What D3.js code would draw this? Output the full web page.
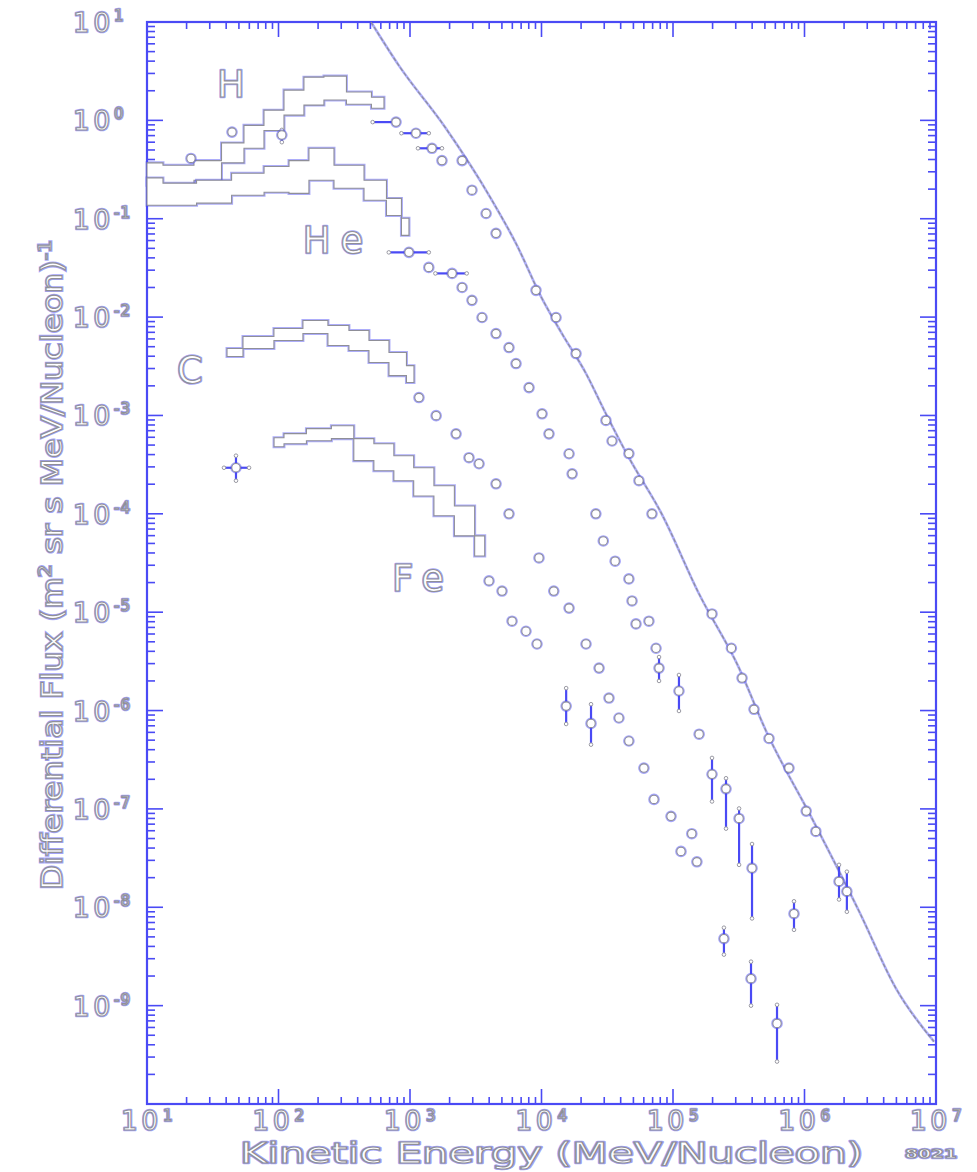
<!DOCTYPE html>
<html><head><meta charset="utf-8">
<script src="https://cdn.jsdelivr.net/npm/d3@7"></script>
<style>
html,body{margin:0;padding:0;background:#fff;}
svg{display:block;}
</style></head><body>
<svg id="chart" width="977" height="1172"></svg>
<script>
// ---------------- data ----------------
const xTickExps = [1, 2, 3, 4, 5, 6, 7];
const yTickExps = [1, 0, -1, -2, -3, -4, -5, -6, -7, -8, -9];
const xTitle = "Kinetic Energy (MeV/Nucleon)";
const yTitleParts = ["Differential Flux (m", "2", " sr s MeV/Nucleon)", "-1"];
const figCode = "8021";

// all-particle power-law line
const lineE = [505, 824, 1850, 4200, 6400, 1.0e4, 1.43e4, 2.18e4, 3.09e4, 4.62e4, 8.2e4, 1.58e5, 3.18e5, 5.1e5, 1.14e6, 2.6e6, 4.97e6, 9.66e6];
const lineF = [10, 3.6, 0.85, 0.154, 0.056, 0.0158, 0.0068, 0.00267, 0.00104, 3.72e-4, 1.0e-4, 1.53e-5, 2.7e-6, 6.2e-7, 8.0e-8, 9.1e-9, 1.49e-9, 4.3e-10];

// H
const hBandE  = [10, 17.5, 29.6, 45.9, 65, 92.5, 131, 186, 264, 409, 634];
const hBandHi = [0.37, 0.35, 0.39, 0.59, 0.89, 1.27, 2.03, 2.75, 2.82, 1.94, 1.72];
const hBandLo = [0.219, 0.195, 0.246, 0.37, 0.52, 0.79, 1.13, 1.43, 1.61, 1.46, 1.33];
const hE  = [21.6, 44.3, 106, 783, 1110, 1470, 1750, 2490, 2960, 3790, 4510, 9080, 1.29e4, 1.83e4, 3.09e4, 3.44e4, 4.62e4, 5.51e4, 6.92e4, 1.98e5, 2.78e5, 3.35e5, 4.13e5, 5.37e5, 7.62e5, 1.03e6, 1.22e6, 1.83e6, 2.1e6];
const hF  = [0.41, 0.76, 0.71, 0.96, 0.74, 0.52, 0.39, 0.39, 0.195, 0.113, 0.071, 0.0187, 0.0099, 0.00426, 8.9e-4, 5.5e-4, 4.1e-4, 2.17e-4, 1.0e-4, 9.6e-6, 4.3e-6, 2.14e-6, 1.03e-6, 5.2e-7, 2.6e-7, 9.5e-8, 5.9e-8, 1.83e-8, 1.45e-8];
const hFLo = [null, null, 0.6, null, null, null, null, null, null, null, null, null, null, null, null, null, null, null, null, null, null, null, null, null, null, null, null, 1.2e-8, 9e-9];
const hFHi = [null, null, 0.8, null, null, null, null, null, null, null, null, null, null, null, null, null, null, null, null, null, null, null, null, null, null, null, null, 2.7e-8, 2.3e-8];
const hELo = [null, null, null, 520, 860, 1150, null, null, null, null, null, null, null, null, null, null, null, null, null, null, null, null, null, null, null, null, null, null, null];
const hEHi = [null, null, null, null, 1390, 1750, null, null, null, null, null, null, null, null, null, null, null, null, null, null, null, null, null, null, null, null, null, null, null];

// He
const heBandE  = [10, 17.5, 32.4, 59.7, 101, 143, 203, 344, 581, 755, 982];
const heBandHi = [0.26, 0.23, 0.246, 0.29, 0.34, 0.39, 0.52, 0.35, 0.246, 0.161, 0.101];
const heBandLo = [0.137, 0.137, 0.144, 0.173, 0.186, 0.181, 0.246, 0.204, 0.154, 0.108, 0.0678];
const heE  = [982, 1390, 2090, 2490, 2960, 3530, 4510, 5660, 6400, 8040, 1.01e4, 1.14e4, 1.62e4, 1.71e4, 2.59e4, 2.95e4, 3.63e4, 4.62e4, 4.88e4, 5.23e4, 6.56e4, 7.43e4, 7.83e4, 1.11e5, 1.58e5, 1.98e5, 2.53e5, 3.18e5, 3.99e5, 8.32e5];
const heF  = [0.0455, 0.032, 0.0278, 0.02, 0.0148, 0.0099, 0.0068, 0.0049, 0.00337, 0.00192, 0.00104, 6.5e-4, 4.08e-4, 2.55e-4, 1.0e-4, 5.3e-5, 3.3e-5, 2.18e-5, 1.3e-5, 7.6e-6, 8.1e-6, 4.3e-6, 2.7e-6, 1.58e-6, 5.75e-7, 2.25e-7, 1.6e-7, 8.0e-8, 2.5e-8, 8.6e-9];
const heFLo = [null, null, null, null, null, null, null, null, null, null, null, null, null, null, null, null, null, null, null, null, null, null, 2.0e-6, 9.9e-7, null, 1.19e-7, 6.3e-8, 2.7e-8, 7.7e-9, 5.9e-9];
const heFHi = [null, null, null, null, null, null, null, null, null, null, null, null, null, null, null, null, null, null, null, null, null, null, 3.5e-6, 2.3e-6, null, 3.3e-7, 2.05e-7, 1.01e-7, 4.4e-8, 1.15e-8];
const heELo = [690, null, 1560, null, null, null, null, null, null, null, null, null, null, null, null, null, null, null, null, null, null, null, null, null, null, null, null, null, null, null];
const heEHi = [1390, null, 2700, null, null, null, null, null, null, null, null, null, null, null, null, null, null, null, null, null, null, null, null, null, null, null, null, null, null, null];

// C
const cBandE  = [40.6, 71, 120, 196, 288, 409, 581, 824, 1072];
const cBandHi = [0.00479, 0.00634, 0.00766, 0.00923, 0.0082, 0.00731, 0.00578, 0.00436, 0.00321];
const cBandLo = [0.00397, 0.00479, 0.00578, 0.0068, 0.00514, 0.00457, 0.00345, 0.00254, 0.00216];
const cE  = [1170, 1580, 2240, 2810, 3350, 4510, 5660, 9570, 1.24e4, 1.62e4, 2.18e4, 2.74e4, 3.26e4, 3.88e4, 4.62e4, 6.01e4, 7.17e4, 9.66e4, 1.39e5, 1.52e5];
const cF  = [0.00152, 9.95e-4, 6.5e-4, 3.72e-4, 3.23e-4, 2.02e-4, 1.0e-4, 3.56e-5, 1.64e-5, 1.1e-5, 4.75e-6, 2.7e-6, 1.34e-6, 8.4e-7, 4.9e-7, 2.6e-7, 1.25e-7, 8.4e-8, 5.6e-8, 2.9e-8];

// Fe
const feBandE  = [92.5, 131, 203, 314, 445, 634, 896, 1270, 1820, 2600, 3700];
const feBandHi = [5.94e-4, 6.53e-4, 7.34e-4, 7.87e-4, 5.81e-4, 5.16e-4, 3.9e-4, 2.94e-4, 1.93e-4, 1.2e-4, 5.97e-5];
const feBandLo = [4.81e-4, 5.16e-4, 5.54e-4, 5.81e-4, 3.47e-4, 2.74e-4, 2.17e-4, 1.52e-4, 9.55e-5, 5.97e-5, 3.73e-5];
const feE  = [47.5, 3990, 5010, 5970, 7620, 9240, 1.54e4, 2.38e4, 1.15e5, 2.44e5, 3.92e5, 6.18e5];
const feF  = [2.94e-4, 2.08e-5, 1.64e-5, 8.1e-6, 6.4e-6, 4.75e-6, 1.11e-6, 7.4e-7, 3.7e-8, 4.8e-9, 1.88e-9, 6.6e-10];
const feFLo = [2.17e-4, null, null, null, null, null, 7.3e-7, 4.5e-7, null, 3.3e-9, 1.0e-9, 2.7e-10];
const feFHi = [3.9e-4, null, null, null, null, null, 1.69e-6, 1.16e-6, null, 6.2e-9, 2.8e-9, 1.02e-9];
const feELo = [38.5, null, null, null, null, null, null, null, null, null, null, null];
const feEHi = [59.7, null, null, null, null, null, null, null, null, null, null, null];

const elementNames = ["H", "He", "C", "Fe"];
const elementLabelE = [34, 153, 16.9, 730];
const elementLabelF = [1.73, 0.0446, 0.00212, 1.66e-5];

// ---------------- drawing ----------------
const BLUE = "#4a4af5", GRAY = "#8f8f98", FONT = "'DejaVu Sans', Verdana, sans-serif";
const svg = d3.select("#chart");
const x = d3.scaleLog().domain([1e1, 1e7]).range([147, 936]);
const y = d3.scaleLog().domain([1e-10, 1e1]).range([1104, 22]);
const [x0, x1] = x.range(), [y1, y0] = y.range();

// outlined text: blue halo + grey outline with white fill
function otext(g, str, px, py, size, opt = {}) {
  const layers = [
    {stroke: BLUE, sw: 2.6, op: 0.5, fill: "none"},
    {stroke: GRAY, sw: 1.1, op: 1, fill: "#fff"}
  ];
  layers.forEach(L => {
    const t = g.append("text").attr("x", px).attr("y", py)
      .attr("font-family", FONT).attr("font-size", size)
      .attr("fill", L.fill).attr("stroke", L.stroke).attr("stroke-width", L.sw)
      .attr("stroke-opacity", L.op).attr("stroke-linejoin", "round")
      .attr("letter-spacing", opt.ls || 0).text(str);
    if (opt.len) t.attr("textLength", opt.len).attr("lengthAdjust", "spacingAndGlyphs");
    if (opt.anchor) t.attr("text-anchor", opt.anchor);
    if (opt.weight) t.attr("font-weight", opt.weight);
  });
}

const gAxes = svg.append("g");
// ticks (inside, all four sides)
const xMinor = [], yMinor = [];
for (let d = 1; d < 7; d++) for (let k = 1; k < 10; k++) xMinor.push({v: k * Math.pow(10, d), major: k === 1});
xMinor.push({v: 1e7, major: true});
for (let d = -10; d < 1; d++) for (let k = 1; k < 10; k++) yMinor.push({v: k * Math.pow(10, d), major: k === 1});
yMinor.push({v: 10, major: true});

const tickSel = gAxes.append("g").attr("stroke", BLUE).attr("stroke-width", 1.6);
xMinor.forEach(t => {
  const L = t.major ? 15 : 7, px = x(t.v);
  tickSel.append("line").attr("x1", px).attr("x2", px).attr("y1", y1).attr("y2", y1 - L);
  tickSel.append("line").attr("x1", px).attr("x2", px).attr("y1", y0).attr("y2", y0 + L);
});
yMinor.forEach(t => {
  const L = t.major ? 16 : 8, py = y(t.v);
  tickSel.append("line").attr("y1", py).attr("y2", py).attr("x1", x0).attr("x2", x0 + L);
  tickSel.append("line").attr("y1", py).attr("y2", py).attr("x1", x1).attr("x2", x1 - L);
});
// frame
gAxes.append("rect").attr("x", x0).attr("y", y0).attr("width", x1 - x0).attr("height", y1 - y0)
  .attr("fill", "none").attr("stroke", BLUE).attr("stroke-width", 2.2);

// tick labels
const gLab = svg.append("g");
yTickExps.forEach(e => {
  const py = y(Math.pow(10, e));
  otext(gLab, "10", 73, py + 10, 26, {ls: 4});
  otext(gLab, String(e), 114, py - 1, 15, {ls: 1});
});
xTickExps.forEach(e => {
  const px = x(Math.pow(10, e));
  otext(gLab, "10", px - 26, 1130, 26, {ls: 4});
  otext(gLab, String(e), px + 16, 1121, 15);
});

// axis titles
otext(gLab, xTitle, 240, 1163, 28, {len: 623});
otext(gLab, figCode, 905, 1158, 13, {len: 52, weight: "bold"});
const yT = svg.append("g").attr("transform", "translate(62,890) rotate(-90)");
[{stroke: BLUE, sw: 2.6, op: 0.5, fill: "none"}, {stroke: GRAY, sw: 1.1, op: 1, fill: "#fff"}].forEach(L => {
  const t = yT.append("text").attr("x", 0).attr("y", 0).attr("font-family", FONT).attr("font-size", 29)
    .attr("fill", L.fill).attr("stroke", L.stroke).attr("stroke-width", L.sw).attr("stroke-opacity", L.op)
    .attr("textLength", 650).attr("lengthAdjust", "spacingAndGlyphs");
  t.append("tspan").text(yTitleParts[0]);
  t.append("tspan").attr("dy", -11).attr("font-size", 18).text(yTitleParts[1]);
  t.append("tspan").attr("dy", 11).text(yTitleParts[2]);
  t.append("tspan").attr("dy", -11).attr("font-size", 18).text(yTitleParts[3]);
});

// plot area
const gPlot = svg.append("g");

// all-particle line
const lineData = lineE.map((e, i) => [e, lineF[i]]);
const lineGen = d3.line().x(d => x(d[0])).y(d => y(d[1])).curve(d3.curveMonotoneX);
gPlot.append("path").attr("d", lineGen(lineData)).attr("fill", "none")
  .attr("stroke", BLUE).attr("stroke-width", 2.6).attr("stroke-opacity", 0.45);
gPlot.append("path").attr("d", lineGen(lineData)).attr("fill", "none")
  .attr("stroke", GRAY).attr("stroke-width", 1.2).attr("stroke-dasharray", "4,2");

// bands
const areaGen = d3.area().x(d => x(d.e)).y0(d => y(d.lo)).y1(d => y(d.hi)).curve(d3.curveStep);
function band(E, Hi, Lo) {
  const data = E.map((e, i) => ({e, hi: Hi[i], lo: Lo[i]}));
  gPlot.append("path").attr("d", areaGen(data)).attr("fill", "none")
    .attr("stroke", BLUE).attr("stroke-width", 3).attr("stroke-opacity", 0.45);
  gPlot.append("path").attr("d", areaGen(data)).attr("fill", "#fff")
    .attr("stroke", GRAY).attr("stroke-width", 1.1);
}
band(hBandE, hBandHi, hBandLo);
band(heBandE, heBandHi, heBandLo);
band(cBandE, cBandHi, cBandLo);
band(feBandE, feBandHi, feBandLo);

// points with error bars
function points(E, F, FLo, FHi, ELo, EHi) {
  const g = gPlot.append("g");
  E.forEach((e, i) => {
    const px = x(e), py = y(F[i]);
    const bars = [];
    if (FLo && FLo[i] != null) bars.push([px, y(FLo[i]), px, y(FHi[i])]);
    if (ELo && ELo[i] != null) bars.push([x(ELo[i]), py, x(EHi[i] != null ? EHi[i] : e), py]);
    bars.forEach(b => {
      g.append("line").attr("x1", b[0]).attr("y1", b[1]).attr("x2", b[2]).attr("y2", b[3])
        .attr("stroke", BLUE).attr("stroke-width", 2.2);
      [[b[0], b[1]], [b[2], b[3]]].forEach(c => g.append("circle").attr("cx", c[0]).attr("cy", c[1]).attr("r", 1.8)
        .attr("fill", "#fff").attr("stroke", GRAY).attr("stroke-width", 0.9));
    });
    g.append("circle").attr("cx", px).attr("cy", py).attr("r", 4.6).attr("fill", "none")
      .attr("stroke", BLUE).attr("stroke-width", 2.4).attr("stroke-opacity", 0.5);
    g.append("circle").attr("cx", px).attr("cy", py).attr("r", 4.2).attr("fill", "#fff")
      .attr("stroke", GRAY).attr("stroke-width", 1.1);
  });
}
points(hE, hF, hFLo, hFHi, hELo, hEHi);
points(heE, heF, heFLo, heFHi, heELo, heEHi);
points(cE, cF, null, null, null, null);
points(feE, feF, feFLo, feFHi, feELo, feEHi);

// element labels
const labelLS = [0, 10, 0, 10];
elementNames.forEach((n, i) => {
  otext(gPlot, n, x(elementLabelE[i]), y(elementLabelF[i]), 37, {ls: labelLS[i]});
});
</script>
</body></html>
